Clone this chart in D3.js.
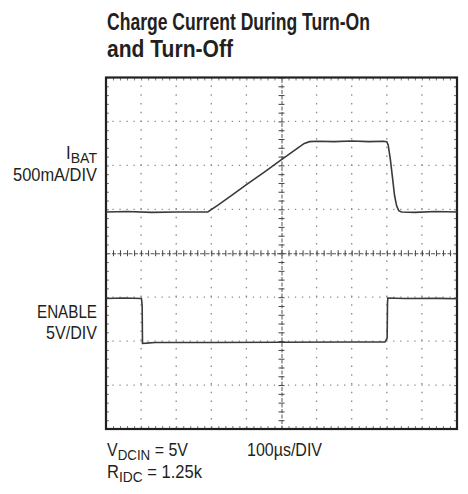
<!DOCTYPE html>
<html>
<head>
<meta charset="utf-8">
<script src="https://cdn.jsdelivr.net/npm/d3@7"></script>
<style>
  body { margin: 0; background: #fff; }
  text { font-family: "Liberation Sans", Arial, sans-serif; fill: #231f20; }
</style>
</head>
<body>
<div id="plot"></div>
<script>
// time axis: 100us/DIV, 10 divisions
const timeTicks = d3.range(0, 1001, 100);
const minorTime = d3.range(0, 1001, 20);
// vertical: 8 divisions, 5 minor steps per div
const divTicks = d3.range(-4, 5, 1);
const minorDiv = d3.range(-4, 4.01, 0.2);

// IBAT trace (us, mA), 500mA/DIV
const ibatTime = [0, 60, 130, 200, 290, 320, 360, 400, 450, 500, 540, 565, 580, 600, 650, 700, 750, 790, 800, 804, 810, 816, 822, 828, 834, 842, 880, 940, 1000];
const ibatMA   = [0, 5, -5, 0, 0, 80, 195, 310, 450, 595, 710, 780, 800, 805, 800, 808, 800, 805, 800, 760, 600, 400, 190, 70, 15, 0, -5, 5, 0];
const ibatOffset = 0.94; // divisions above centre for 0mA

// ENABLE trace (us, V), 5V/DIV
const enTime = [0, 50, 101, 103, 104, 115, 140, 300, 500, 700, 795, 801, 802, 803, 850, 950, 1000];
const enVolt = [5, 5.05, 5, 4.2, -0.1, -0.08, 0, 0, 0.02, 0.05, 0.05, 0.5, 4.5, 5.05, 5, 5.02, 4.98];
const enOffset = -2.03; // divisions for 0V

const W = 468, H = 494;
const frame = { left: 106, right: 457, top: 77.5, bottom: 429 };

const svg = d3.select('#plot').append('svg')
  .attr('width', W).attr('height', H);

const x = d3.scaleLinear().domain([0, 1000]).range([frame.left, frame.right]);
const y = d3.scaleLinear().domain([-4, 4]).range([frame.bottom, frame.top]);

// grid dots on each major line
const grid = svg.append('g').attr('stroke', '#8a8a8a').attr('stroke-width', 1.3);
grid.selectAll('.vg').data(timeTicks.filter(d => d > 0 && d < 1000 && d !== 500)).enter()
  .append('line')
  .attr('x1', d => x(d)).attr('x2', d => x(d))
  .attr('y1', y(4)).attr('y2', y(-4))
  .attr('stroke-dasharray', '1.3,7.45')
  .attr('stroke-dashoffset', -8.1);
grid.selectAll('.hg').data(divTicks.filter(d => d > -4 && d < 4 && d !== 0)).enter()
  .append('line')
  .attr('x1', x(0)).attr('x2', x(1000))
  .attr('y1', d => y(d)).attr('y2', d => y(d))
  .attr('stroke-dasharray', '1.3,5.72')
  .attr('stroke-dashoffset', -6.4);

// centre axes with minor ticks
const centre = svg.append('g');
centre.append('g')
  .attr('transform', `translate(0,${y(0)})`)
  .call(d3.axisBottom(x).tickValues(minorTime).tickSize(3).tickSizeOuter(0).tickFormat(''))
  .call(g => g.selectAll('.tick line').attr('y1', -3).attr('stroke', '#444'))
  .call(g => g.select('.domain').attr('stroke', '#555').attr('stroke-dasharray', '4,1.5'));
centre.append('g')
  .attr('transform', `translate(${x(500)},0)`)
  .call(d3.axisLeft(y).tickValues(minorDiv).tickSize(3).tickSizeOuter(0).tickFormat(''))
  .call(g => g.selectAll('.tick line').attr('x1', 3).attr('stroke', '#444'))
  .call(g => g.select('.domain').attr('stroke', '#555').attr('stroke-dasharray', '4,1.5'));

// minor ticks along frame edges
const edge = svg.append('g');
edge.append('g').attr('transform', `translate(0,${y(4)})`)
  .call(d3.axisBottom(x).tickValues(minorTime).tickSize(3).tickFormat(''))
  .call(g => g.select('.domain').remove());
edge.append('g').attr('transform', `translate(0,${y(-4)})`)
  .call(d3.axisTop(x).tickValues(minorTime).tickSize(3).tickFormat(''))
  .call(g => g.select('.domain').remove());
edge.append('g').attr('transform', `translate(${x(0)},0)`)
  .call(d3.axisRight(y).tickValues(minorDiv).tickSize(3).tickFormat(''))
  .call(g => g.select('.domain').remove());
edge.append('g').attr('transform', `translate(${x(1000)},0)`)
  .call(d3.axisLeft(y).tickValues(minorDiv).tickSize(3).tickFormat(''))
  .call(g => g.select('.domain').remove());
edge.selectAll('.tick line').attr('stroke', '#777');

// frame
svg.append('rect')
  .attr('x', x(0)).attr('y', y(4))
  .attr('width', x(1000) - x(0)).attr('height', y(-4) - y(4))
  .attr('fill', 'none').attr('stroke', '#231f20').attr('stroke-width', 2.2);

// traces
const line = d3.line().x(d => x(d[0])).y(d => y(d[1]));
svg.append('path')
  .datum(ibatTime.map((t, i) => [t, ibatMA[i] / 500 + ibatOffset]))
  .attr('d', line)
  .attr('fill', 'none').attr('stroke', '#3a3a3a').attr('stroke-width', 1.6);
svg.append('path')
  .datum(enTime.map((t, i) => [t, enVolt[i] / 5 + enOffset]))
  .attr('d', line)
  .attr('fill', 'none').attr('stroke', '#3a3a3a').attr('stroke-width', 1.6);

// helper: fit text to the width measured on the reference
const fit = (sel, w) => sel.attr('textLength', w).attr('lengthAdjust', 'spacingAndGlyphs');

// title
const title = svg.append('g').attr('font-weight', 'bold').attr('font-size', 23);
fit(title.append('text').attr('x', 107).attr('y', 30), 263).text('Charge Current During Turn-On');
fit(title.append('text').attr('x', 107).attr('y', 57), 126).text('and Turn-Off');

// channel labels
const lab = svg.append('g').attr('font-size', 18).attr('text-anchor', 'end');
const ib = fit(lab.append('text').attr('x', 97).attr('y', 159), 31);
ib.append('tspan').text('I');
ib.append('tspan').attr('font-size', 15).attr('dy', 3.5).text('BAT');
fit(lab.append('text').attr('x', 97).attr('y', 181), 84).text('500mA/DIV');
fit(lab.append('text').attr('x', 97).attr('y', 318), 60).text('ENABLE');
fit(lab.append('text').attr('x', 97).attr('y', 339), 51).text('5V/DIV');

// conditions
const cond = svg.append('g').attr('font-size', 18);
const v = fit(cond.append('text').attr('x', 107).attr('y', 456), 81);
v.append('tspan').text('V');
v.append('tspan').attr('font-size', 15).attr('dy', 4).text('DCIN');
v.append('tspan').attr('dy', -4).text(' = 5V');
const r = fit(cond.append('text').attr('x', 107).attr('y', 478), 95);
r.append('tspan').text('R');
r.append('tspan').attr('font-size', 15).attr('dy', 4).text('IDC');
r.append('tspan').attr('dy', -4).text(' = 1.25k');
fit(cond.append('text').attr('x', 247).attr('y', 456), 75).text('100µs/DIV');
</script>
</body>
</html>
